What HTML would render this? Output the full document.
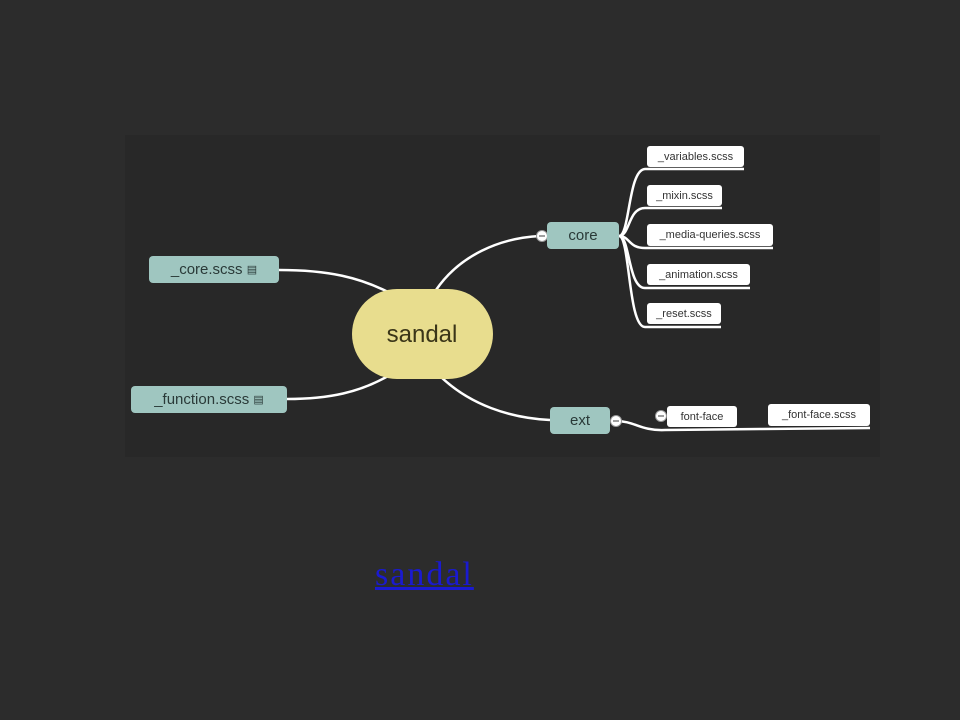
<!DOCTYPE html>
<html><head><meta charset="utf-8"><style>
body{margin:0;width:960px;height:720px;background:#2c2c2c;overflow:hidden;position:relative;font-family:"Century Gothic","Liberation Sans",sans-serif}
.inner{position:absolute;left:125px;top:135px;width:755px;height:322px;background:#282828}
.n{position:absolute;background:#9fc6c0;border-radius:4px;color:#2a3a38;font-size:15px;display:flex;align-items:center;justify-content:center}
.l{position:absolute;background:#fff;border-radius:3px;color:#333;font-size:11px;display:flex;align-items:center;justify-content:center}
a{position:absolute;left:375px;top:556px;font-family:"Liberation Serif",serif;font-size:34px;color:#1a1ad0;letter-spacing:2px}
</style></head><body>
<div class="inner"></div>
<svg width="960" height="720" style="position:absolute;left:0;top:0">
<g fill="none" stroke="#fff" stroke-width="2.5">
<path d="M279 270 C330 270 360 278 388 292"/>
<path d="M287 399 C330 399 360 392 388 376"/>
<path d="M436 290 C460 255 500 238 540 236"/>
<path d="M440 376 C470 405 510 418 550 420"/>
<path d="M619 236 C630 236 628 170 645 169 L744 169"/>
<path d="M619 236 C630 236 628 208 645 208 L722 208"/>
<path d="M619 236 C630 236 628 248 645 248 L773 248"/>
<path d="M619 236 C630 236 628 288 645 288 L750 288"/>
<path d="M619 236 C630 236 628 327 645 327 L721 327"/>
<path d="M616 421 C635 421 640 431 665 430 L760 429 L870 428"/>
</g>
<g fill="#fff" stroke="#999" stroke-width="1">
<circle cx="542" cy="236" r="5.5"/><circle cx="616" cy="421" r="5.5"/><circle cx="661" cy="416" r="5.5"/>
</g>
<g stroke="#666" stroke-width="1.2"><path d="M539 236h6M613 421h6M658 416h6"/></g>
<rect x="352" y="289" width="141" height="90" rx="45" fill="#e8dd8e"/>
<text x="422" y="342" text-anchor="middle" font-size="24" fill="#3a3518" font-family="Liberation Sans,sans-serif">sandal</text>
</svg>
<div class="n" style="left:149px;top:256px;width:130px;height:27px">_core.scss&nbsp;<span style="font-size:11px">▤</span></div>
<div class="n" style="left:131px;top:386px;width:156px;height:27px">_function.scss&nbsp;<span style="font-size:11px">▤</span></div>
<div class="n" style="left:547px;top:222px;width:72px;height:27px">core</div>
<div class="n" style="left:550px;top:407px;width:60px;height:27px">ext</div>
<div class="l" style="left:647px;top:146px;width:97px;height:21px">_variables.scss</div>
<div class="l" style="left:647px;top:185px;width:75px;height:21px">_mixin.scss</div>
<div class="l" style="left:647px;top:224px;width:126px;height:22px">_media-queries.scss</div>
<div class="l" style="left:647px;top:264px;width:103px;height:21px">_animation.scss</div>
<div class="l" style="left:647px;top:303px;width:74px;height:21px">_reset.scss</div>
<div class="l" style="left:667px;top:406px;width:70px;height:21px">font-face</div>
<div class="l" style="left:768px;top:404px;width:102px;height:22px">_font-face.scss</div>
<a href="#" style="text-decoration:underline">sandal</a>
</body></html>
